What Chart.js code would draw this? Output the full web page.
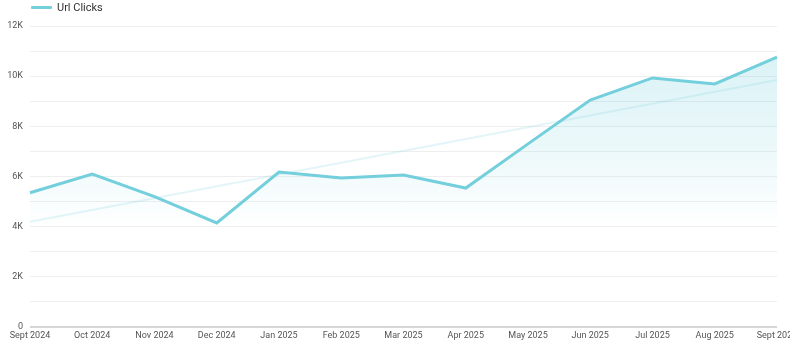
<!DOCTYPE html>
<html lang="en">
<head>
  <meta charset="UTF-8" />
  <title>Url Clicks</title>
  <script src="https://cdn.jsdelivr.net/npm/chart.js"></script>
  <style>
    body { margin: 0; background: #fff; font-family: Roboto, sans-serif; }
    .wrap { position: relative; width: 790px; height: 348px; }
    .legend {
      position: absolute; top: 1px; left: 31px;
      display: flex; align-items: center;
      font-size: 11px; color: #333;
    }
    .legend .swatch { width: 21px; height: 3px; background: #74cfdd; margin-right: 5px; border-radius: 1px; }
  </style>
</head>
<body>
  <div class="wrap">
    <canvas id="chart" width="790" height="348"></canvas>
    <div class="legend"><span class="swatch"></span><span>Url Clicks</span></div>
  </div>

  <script>
    const months = ["Sept 2024", "Oct 2024", "Nov 2024", "Dec 2024", "Jan 2025", "Feb 2025", "Mar 2025",
                    "Apr 2025", "May 2025", "Jun 2025", "Jul 2025", "Aug 2025", "Sept 2025"];
    const urlClicks = [5350, 6100, 5200, 4150, 6180, 5940, 6060, 5540, 7300, 9050, 9930, 9690, 10760];
    // trend line: only its two end points
    const trend = [4200, null, null, null, null, null, null, null, null, null, null, null, 9850];
    const yTickLabels = ["0", "2K", "4K", "6K", "8K", "10K", "12K"];

    const lineColor = "#74cfdd";

    // fill fades out to white around the 4K line
    function areaFill(ctx) {
      const area = ctx.chart.chartArea;
      if (!area) return "rgba(116,207,221,0.15)";
      const g = ctx.chart.ctx.createLinearGradient(0, area.top, 0, area.bottom);
      g.addColorStop(0, "rgba(116,207,221,0.30)");
      g.addColorStop(0.4, "rgba(116,207,221,0.14)");
      g.addColorStop(0.67, "rgba(116,207,221,0)");
      g.addColorStop(1, "rgba(116,207,221,0)");
      return g;
    }

    new Chart(document.getElementById("chart"), {
      type: "line",
      data: {
        labels: months,
        datasets: [
          {
            label: "Url Clicks",
            data: urlClicks,
            borderColor: lineColor,
            borderWidth: 3,
            backgroundColor: areaFill,
            fill: "origin",
            tension: 0,
            pointRadius: 0
          },
          {
            label: "Trend",
            data: trend,
            spanGaps: true,
            borderColor: "rgba(116,207,221,0.2)",
            borderWidth: 2,
            fill: false,
            pointRadius: 0
          }
        ]
      },
      options: {
        responsive: false,
        animation: false,
        layout: { padding: { top: 26, right: 13, left: 0, bottom: 0 } },
        plugins: { legend: { display: false }, tooltip: { enabled: false } },
        scales: {
          x: {
            grid: { display: false, drawTicks: false },
            border: { display: false },
            ticks: {
              autoSkip: false, maxRotation: 0, padding: 3,
              color: "#555", font: { family: "Roboto", size: 9 }
            },
            afterFit: s => { s.height = 21; s.paddingRight = 0; s.paddingLeft = 0; }
          },
          y: {
            min: 0, max: 12000,
            border: { display: false },
            grid: {
              drawTicks: false,
              color: c => c.tick.value === 0 ? "#d6d6d6" : "#eeeeee",
              lineWidth: c => c.tick.value === 0 ? 2 : 1
            },
            ticks: {
              stepSize: 1000, padding: 7,
              color: "#555", font: { family: "Roboto", size: 9 },
              callback: v => v % 2000 === 0 ? yTickLabels[v / 2000] : ""
            },
            afterFit: s => { s.width = 30; }
          }
        }
      }
    });
  </script>
</body>
</html>
